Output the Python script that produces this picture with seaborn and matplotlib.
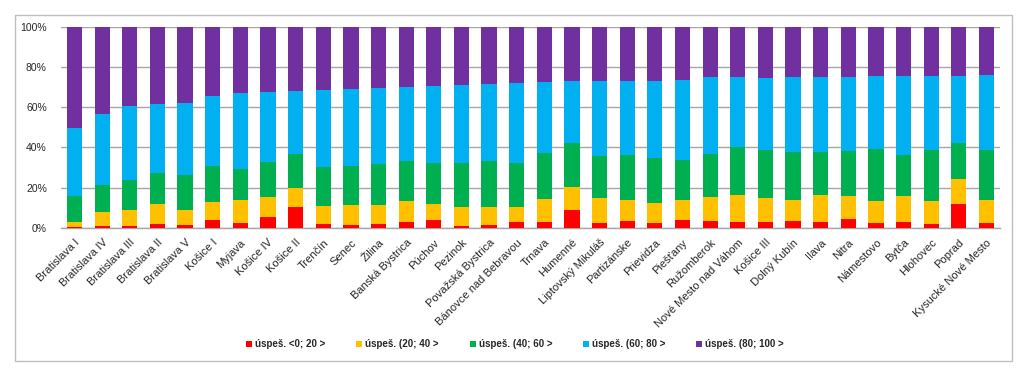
import matplotlib
matplotlib.use("Agg")
import matplotlib.pyplot as plt
from matplotlib.patches import Patch, Rectangle
import numpy as np
import pandas as pd
import seaborn as sns

okresy = ["Bratislava I", "Bratislava IV", "Bratislava III", "Bratislava II", "Bratislava V",
          "Košice I", "Myjava", "Košice IV", "Košice II", "Trenčín", "Senec", "Žilina",
          "Banská Bystrica", "Púchov", "Pezinok", "Považská Bystrica", "Bánovce nad Bebravou",
          "Trnava", "Humenné", "Liptovský Mikuláš", "Partizánske", "Prievidza", "Piešťany",
          "Ružomberok", "Nové Mesto nad Váhom", "Košice III", "Dolný Kubín", "Ilava", "Nitra",
          "Námestovo", "Bytča", "Hlohovec", "Poprad", "Kysucké Nové Mesto"]

# podiely v % pre jednotlive pasma uspesnosti
p_0_20 = [0.3, 1.0, 1.0, 2.0, 1.2, 3.6, 2.3, 5.1, 10.1, 1.7, 1.3, 1.8, 2.8, 4.0, 1.0, 1.3, 2.7,
          2.7, 8.8, 2.3, 3.3, 2.2, 4.0, 3.2, 3.0, 2.8, 3.2, 3.0, 4.3, 2.2, 2.7, 1.8, 11.9, 2.2]
p_20_40 = [2.7, 7.0, 7.8, 9.6, 7.6, 9.2, 11.3, 10.0, 9.6, 9.2, 10.1, 9.6, 10.6, 7.9, 9.1, 9.0, 7.6,
           11.7, 11.6, 12.3, 10.5, 10.1, 9.9, 11.9, 13.3, 12.1, 10.7, 13.4, 11.5, 11.2, 12.9, 11.3, 12.5, 11.4]
p_40_60 = [12.9, 13.4, 15.1, 15.4, 17.2, 17.7, 15.4, 17.7, 16.8, 19.1, 19.3, 20.1, 19.9, 20.4, 22.2, 22.7, 21.9,
           22.9, 21.9, 21.2, 22.5, 22.4, 19.8, 21.4, 23.8, 23.9, 23.9, 21.2, 22.2, 25.9, 20.7, 25.4, 17.9, 24.9]
p_60_80 = [33.5, 35.0, 36.6, 34.5, 36.2, 34.8, 37.8, 34.7, 31.7, 38.5, 38.1, 38.2, 36.7, 38.2, 38.5, 38.3, 39.6,
           35.0, 30.5, 37.2, 36.7, 38.4, 39.8, 38.3, 34.7, 35.7, 37.0, 37.4, 37.0, 36.2, 39.2, 37.0, 33.3, 37.3]
p_80_100 = [50.6, 43.6, 39.5, 38.5, 37.8, 34.7, 33.2, 32.5, 31.8, 31.5, 31.2, 30.3, 30.0, 29.5, 29.2, 28.7, 28.2,
            27.7, 27.2, 27.0, 27.0, 26.9, 26.5, 25.2, 25.2, 25.5, 25.2, 25.0, 25.0, 24.5, 24.5, 24.5, 24.4, 24.2]

pasma = ["úspeš. <0; 20 >", "úspeš. (20; 40 >", "úspeš. (40; 60 >", "úspeš. (60; 80 >", "úspeš. (80; 100 >"]
farby = ["#FF0000", "#FFC000", "#00B050", "#00B0F0", "#7030A0"]

df = pd.DataFrame({"okres": okresy, pasma[0]: p_0_20, pasma[1]: p_20_40, pasma[2]: p_40_60,
                   pasma[3]: p_60_80, pasma[4]: p_80_100}).set_index("okres")
# normalizacia na 100 % a kumulativne sucty
df = df.div(df.sum(axis=1), axis=0) * 100
kum = df.cumsum(axis=1)

sns.set_style("white")
plt.rcParams["font.family"] = ["Liberation Sans", "DejaVu Sans"]

fig = plt.figure(figsize=(10.24, 3.72), dpi=100)
ax = fig.add_axes([0.0593, 0.3879, 0.9176, 0.5403])

# od najvyssieho kumulativneho po najnizsi, aby sa prekryvali ako stack
for pasmo, farba in zip(pasma[::-1], farby[::-1]):
    sns.barplot(x=kum.index, y=kum[pasmo].values, color=farba, width=0.55,
                saturation=1, linewidth=0, ax=ax, zorder=3)

ax.set_ylim(0, 100)
ax.set_xlim(-0.5, len(okresy) - 0.5)
ax.set_yticks(np.arange(0, 101, 20))
ax.set_yticklabels([f"{v}%" for v in range(0, 101, 20)])
ax.yaxis.grid(True, color="#A6A6A6", linewidth=1, zorder=0)
ax.set_xlabel("")
ax.set_ylabel("")
for s in ["top", "right", "left"]:
    ax.spines[s].set_visible(False)
ax.spines["bottom"].set_color("#A6A6A6")
ax.spines["bottom"].set_linewidth(1)
ax.tick_params(axis="y", labelsize=7.5, colors="#262626", length=0, pad=10)
ax.tick_params(axis="x", labelsize=8, colors="#262626", length=0, pad=7)
plt.setp(ax.get_xticklabels(), rotation=45, ha="right", va="top", rotation_mode="anchor")

handles = [Patch(facecolor=f, edgecolor="none") for f in farby]
fig.legend(handles, pasma, loc="center", bbox_to_anchor=(0.503, 0.075), ncol=5, frameon=False,
           handlelength=0.6, handleheight=0.6, handletextpad=0.3, columnspacing=3.2,
           prop={"size": 7, "weight": "bold"})

# ramik okolo grafu
fig.patches.append(Rectangle((15 / 1024, 1 - 361 / 372), (1012 - 15) / 1024, (361 - 15) / 372,
                             transform=fig.transFigure, fill=False, edgecolor="#BFBFBF", linewidth=1))

fig.savefig("out.png", dpi=100, facecolor="white")
